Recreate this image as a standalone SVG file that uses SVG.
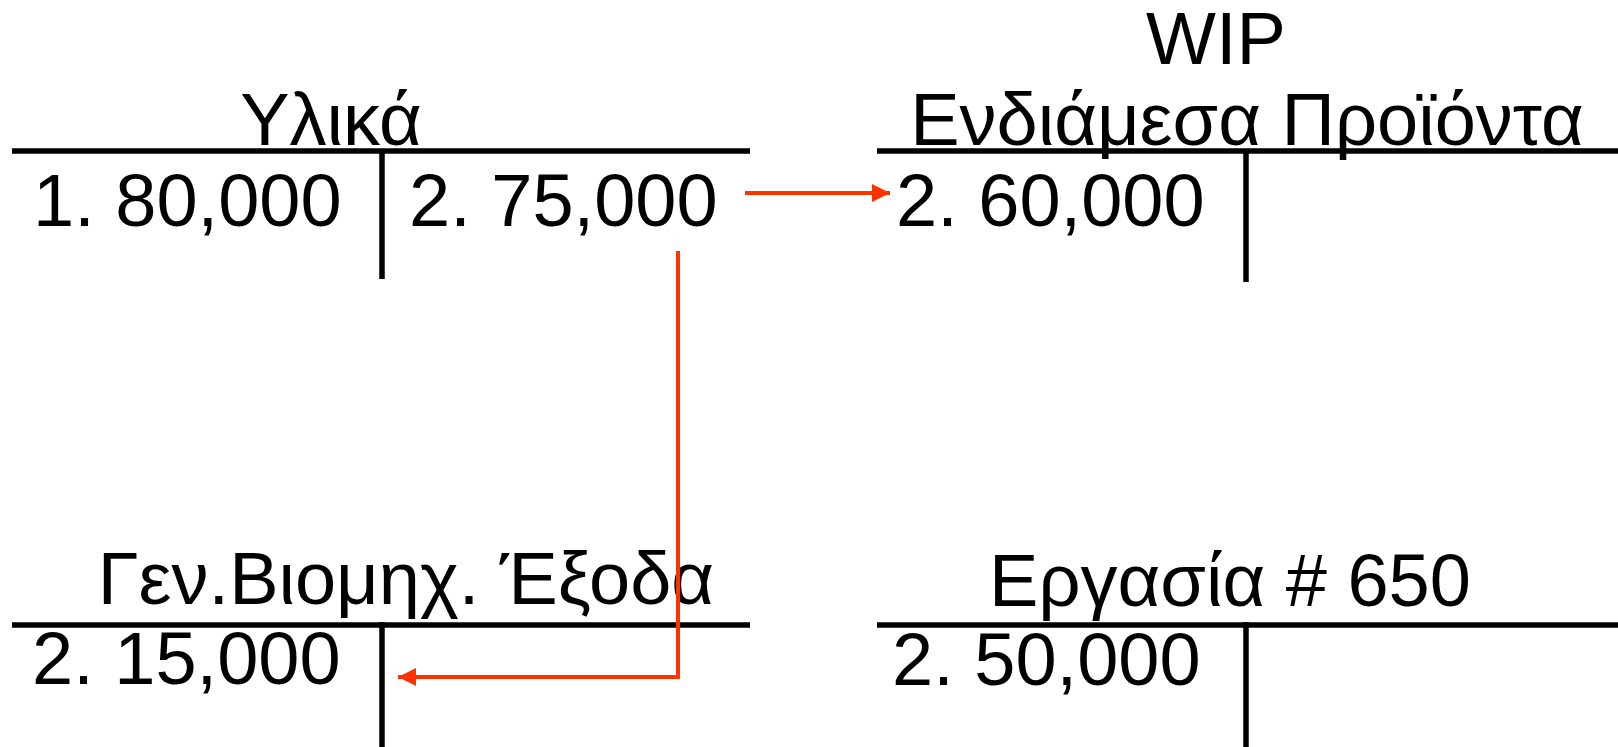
<svg xmlns="http://www.w3.org/2000/svg" width="1618" height="747" viewBox="0 0 1618 747">
<style>
text{font-family:"Liberation Sans",Arial,sans-serif;font-size:74px;fill:#000}
.t{text-anchor:middle}
.ln{stroke:#000;stroke-width:5.5;fill:none}
.ar{stroke:#FF3300;stroke-width:4;fill:none}
</style>
<defs>
<marker id="ah" viewBox="0 0 10 10" refX="10" refY="5" markerWidth="5" markerHeight="4.5" markerUnits="strokeWidth" orient="auto">
<path d="M0,0 L10,5 L0,10 Z" fill="#FF3300"/>
</marker>
</defs>
<rect width="1618" height="747" fill="#fff"/>
<g id="ylika">
<text class="t" x="331" y="145">Υλικά</text>
<line class="ln" x1="12" y1="151" x2="750" y2="151"/>
<line class="ln" x1="382" y1="151" x2="382" y2="279"/>
<text x="33" y="226">1. 80,000</text>
<text x="409" y="226">2. 75,000</text>
</g>
<g id="wip">
<text class="t" x="1216" y="64">WIP</text>
<text class="t" x="1247" y="145">Ενδιάμεσα Προϊόντα</text>
<line class="ln" x1="877" y1="151" x2="1618" y2="151"/>
<line class="ln" x1="1246" y1="151" x2="1246" y2="282"/>
<text x="896" y="226">2. 60,000</text>
</g>
<g id="gen">
<text class="t" x="406" y="604">Γεν.Βιομηχ. Έξοδα</text>
<line class="ln" x1="12" y1="625" x2="750" y2="625"/>
<line class="ln" x1="382" y1="622" x2="382" y2="747"/>
<text x="32" y="684">2. 15,000</text>
</g>
<g id="ergasia">
<text class="t" x="1230" y="606">Εργασία # 650</text>
<line class="ln" x1="877" y1="625" x2="1618" y2="625"/>
<line class="ln" x1="1246" y1="622" x2="1246" y2="747"/>
<text x="892" y="685">2. 50,000</text>
</g>
<g id="connectors">
<line class="ar" x1="745" y1="193" x2="890" y2="193" marker-end="url(#ah)"/>
<polyline class="ar" points="678,251 678,677 398,677" marker-end="url(#ah)"/>
</g>
</svg>
